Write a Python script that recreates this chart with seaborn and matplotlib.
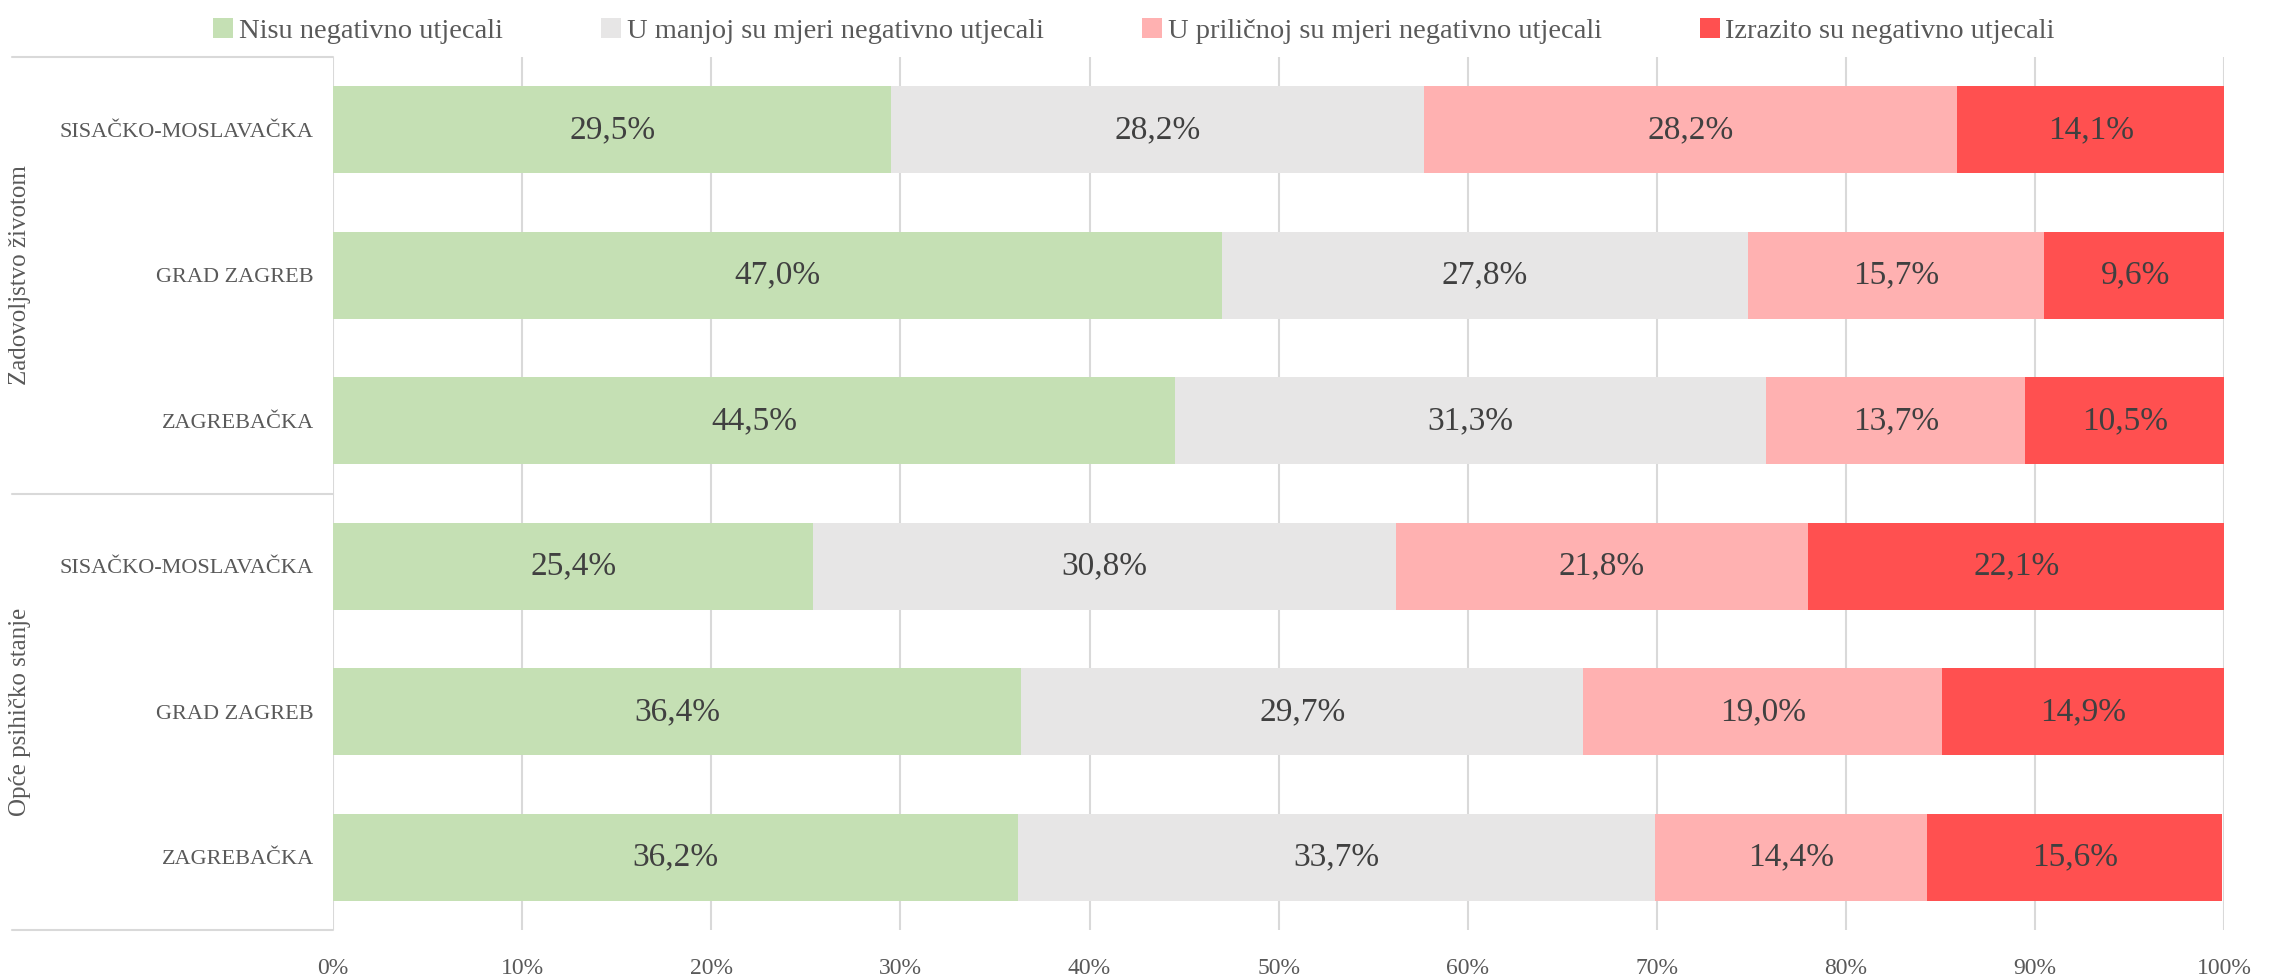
import pandas as pd
import seaborn as sns
import matplotlib.pyplot as plt
from matplotlib.patches import Patch

# data (percent)
regions = ["SISAČKO-MOSLAVAČKA", "GRAD ZAGREB", "ZAGREBAČKA",
           "SISAČKO-MOSLAVAČKA", "GRAD ZAGREB", "ZAGREBAČKA"]
groups = ["Zadovoljstvo životom", "Opće psihičko stanje"]
series = ["Nisu negativno utjecali", "U manjoj su mjeri negativno utjecali",
          "U priličnoj su mjeri negativno utjecali", "Izrazito su negativno utjecali"]
nisu = [29.5, 47.0, 44.5, 25.4, 36.4, 36.2]
manjoj = [28.2, 27.8, 31.3, 30.8, 29.7, 33.7]
prilicnoj = [28.2, 15.7, 13.7, 21.8, 19.0, 14.4]
izrazito = [14.1, 9.6, 10.5, 22.1, 14.9, 15.6]
colors = ["#C5E0B4", "#E7E6E6", "#FFB1B1", "#FF5050"]

df = pd.DataFrame({"row": [str(i) for i in range(len(regions))],
                   series[0]: nisu, series[1]: manjoj,
                   series[2]: prilicnoj, series[3]: izrazito})

sns.set_theme(style="white")
plt.rcParams['font.family'] = ['Liberation Serif', 'DejaVu Serif']

fig = plt.figure(figsize=(22.82, 9.77), dpi=100)
ax = fig.add_axes([0.146, 0.048, 0.8286, 0.8937])

order = list(df["row"])
cum = df[series].cumsum(axis=1)
# draw stacked bars from the longest cumulative layer to the shortest
for k in range(len(series) - 1, -1, -1):
    sns.barplot(x=cum[series[k]], y=df["row"], orient="h", order=order,
                color=colors[k], saturation=1, width=0.6, linewidth=0, ax=ax)

starts = cum - df[series]
for i in range(len(df)):
    for k, s in enumerate(series):
        v = df[s].iloc[i]
        ax.text(starts[s].iloc[i] + v / 2, i, f"{v:.1f}%".replace(".", ","),
                ha="center", va="center", fontsize=24, color="#404040")

ax.set_xlim(0, 100)
ax.set_ylim(5.5, -0.5)
ax.set_xticks(range(0, 101, 10))
ax.set_xticklabels([f"{t}%" for t in range(0, 101, 10)])
ax.set_yticks(range(len(regions)))
ax.set_yticklabels(regions)
ax.set_xlabel("")
ax.set_ylabel("")
ax.tick_params(axis="x", length=0, pad=20, labelsize=17, labelcolor="#595959")
ax.tick_params(axis="y", length=0, pad=14, labelsize=16, labelcolor="#595959")
ax.set_axisbelow(True)
ax.xaxis.grid(True, color="#D9D9D9", linewidth=1.5)
ax.yaxis.grid(False)
for sp in ax.spines.values():
    sp.set_visible(False)

# group separators and labels on the left
tr = ax.get_yaxis_transform()
for yv in [-0.5, 2.5, 5.5]:
    ax.plot([-0.170, 0], [yv, yv], color="#D9D9D9", linewidth=1.5,
            transform=tr, clip_on=False)
for g, yc in zip(groups, [1, 4]):
    ax.text(-0.1655, yc, g, rotation=90, ha="center", va="center",
            fontsize=18, color="#595959", transform=tr)

handles = [Patch(facecolor=c, edgecolor="none") for c in colors]
fig.legend(handles, series, loc="upper center", bbox_to_anchor=(0.497, 1.008),
           ncol=4, frameon=False, fontsize=20.5, handlelength=0.7, handleheight=0.7,
           handletextpad=0.2, columnspacing=3.45, labelcolor="#595959")

fig.savefig("out.png", dpi=100)
